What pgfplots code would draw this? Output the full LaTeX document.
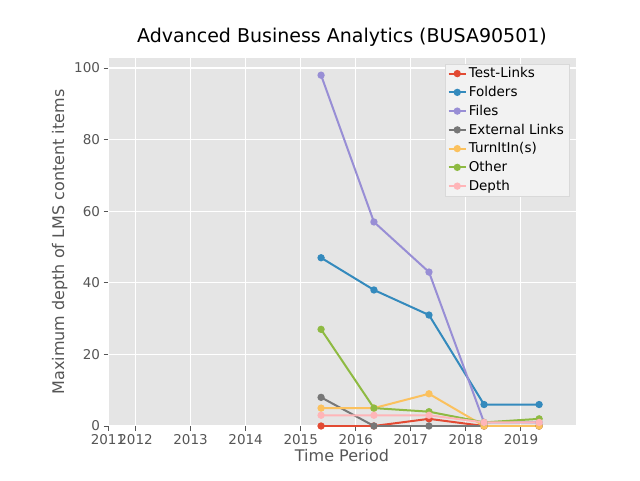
\documentclass[border=0pt]{standalone}
\usepackage{pgfplots}
\pgfplotsset{compat=1.18}
\usepackage{fontspec}
\setmainfont{DejaVu Sans}
\definecolor{c1}{HTML}{E24A33}
\definecolor{c2}{HTML}{348ABD}
\definecolor{c3}{HTML}{988ED5}
\definecolor{c4}{HTML}{777777}
\definecolor{c5}{HTML}{FBC15E}
\definecolor{c6}{HTML}{8EBA42}
\definecolor{c7}{HTML}{FFB5B8}
\definecolor{tk}{HTML}{555555}
\begin{document}
\begin{tikzpicture}
\path[use as bounding box] (0,0) rectangle (640pt,480pt);
\begin{axis}[at={(108pt,54pt)}, anchor=south west,
 width=468pt, height=368pt, scale only axis,
 /pgf/number format/assume math mode=true,
 xmin=2011.5, xmax=2020.0, ymin=0, ymax=102.8,
 xtick={2011.5,2012,2013,2014,2015,2016,2017,2018,2019},
 xticklabels={2011,2012,2013,2014,2015,2016,2017,2018,2019},
 /pgf/number format/set thousands separator={},
 ytick={0,20,40,60,80,100},
 axis background/.style={fill=black!10},
 axis line style={draw=none},
 grid=major, major grid style={white, line width=1.1pt},
 tick style={tk, line width=1pt}, major tick length=4.5pt, tick align=outside,
 xtick pos=bottom, ytick pos=left,
 ticklabel style={font=\fontsize{13.5}{16}\selectfont, text=tk},
 xlabel={Time Period}, ylabel={Maximum depth of LMS content items},
 label style={font=\fontsize{16}{19}\selectfont, text=tk},
 xlabel style={yshift=2pt},
 title={Advanced Business Analytics (BUSA90501)},
 title style={font=\fontsize{19}{22}\selectfont, yshift=2pt},
 legend pos=north east,
 legend style={font=\fontsize{13.5}{16}\selectfont, fill=black!5, draw=black!15, row sep=3pt, at={(0.985,0.985)}},
 legend cell align=left,
 every axis plot/.append style={line width=2pt, mark=*, mark size=2.6pt},
]
\addplot[c1] coordinates {(2015.37,0)(2016.33,0)(2017.33,2)(2018.33,0)(2019.33,0)};
\addlegendentry{Test-Links}
\addplot[c2] coordinates {(2015.37,47)(2016.33,38)(2017.33,31)(2018.33,6)(2019.33,6)};
\addlegendentry{Folders}
\addplot[c3] coordinates {(2015.37,98)(2016.33,57)(2017.33,43)(2018.33,1)(2019.33,1)};
\addlegendentry{Files}
\addplot[c4] coordinates {(2015.37,8)(2016.33,0)(2017.33,0)(2018.33,0)(2019.33,0)};
\addlegendentry{External Links}
\addplot[c5] coordinates {(2015.37,5)(2016.33,5)(2017.33,9)(2018.33,0)(2019.33,0)};
\addlegendentry{TurnItIn(s)}
\addplot[c6] coordinates {(2015.37,27)(2016.33,5)(2017.33,4)(2018.33,1)(2019.33,2)};
\addlegendentry{Other}
\addplot[c7] coordinates {(2015.37,3)(2016.33,3)(2017.33,3)(2018.33,1)(2019.33,1)};
\addlegendentry{Depth}
\end{axis}
\end{tikzpicture}
\end{document}
